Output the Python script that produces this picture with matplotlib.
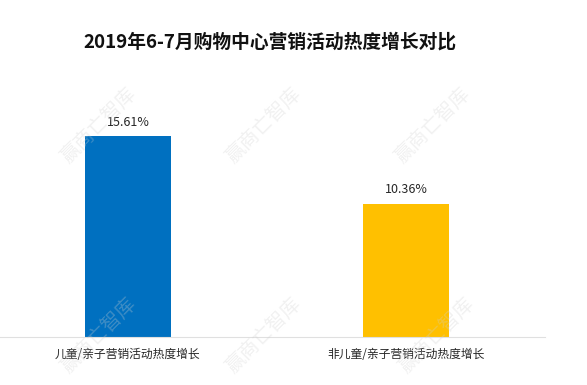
import matplotlib.pyplot as plt

plt.rcParams['font.family'] = ['Noto Sans CJK SC', 'DejaVu Sans']

# data
categories = ['儿童/亲子营销活动热度增长', '非儿童/亲子营销活动热度增长']
values = [15.61, 10.36]
value_labels = ['15.61%', '10.36%']
colors = ['#0070c0', '#ffc000']
title = '2019年6-7月购物中心营销活动热度增长对比'
watermark = '赢商亡智库'

fig = plt.figure(figsize=(5.87, 3.85), dpi=100)
ax = fig.add_axes([0.0, 1 - 337 / 385, 545 / 587, 257 / 385])

x = list(range(len(categories)))
ax.bar(x, values, width=0.31, color=colors, zorder=2)
for xi, v, lab in zip(x, values, value_labels):
    ax.text(xi, v + 0.6, lab, ha='center', va='bottom', fontsize=9, color='#262626')

ax.set_xlim(-0.46, 1.5)
ax.set_ylim(0, 20)
ax.set_xticks(x)
ax.set_xticklabels(categories, fontsize=8.5, color='#262626')
ax.tick_params(axis='x', length=0, pad=8)
ax.set_yticks([])
for s in ['top', 'right', 'left']:
    ax.spines[s].set_visible(False)
ax.spines['bottom'].set_color('#e0e0e0')
ax.spines['bottom'].set_linewidth(0.8)

fig.text(270 / 587, 1 - 42 / 385, title, ha='center', va='center',
         fontsize=13.5, fontweight='bold', color='#111111')

# faint watermarks
for wx, wy in [(98, 125), (263, 125), (432, 125), (98, 335), (263, 335), (436, 335)]:
    fig.text(wx / 587, 1 - wy / 385, watermark, ha='center', va='center',
             fontsize=14, rotation=45, color='#d0d0d0', alpha=0.3)

fig.savefig('out.png', dpi=100)
